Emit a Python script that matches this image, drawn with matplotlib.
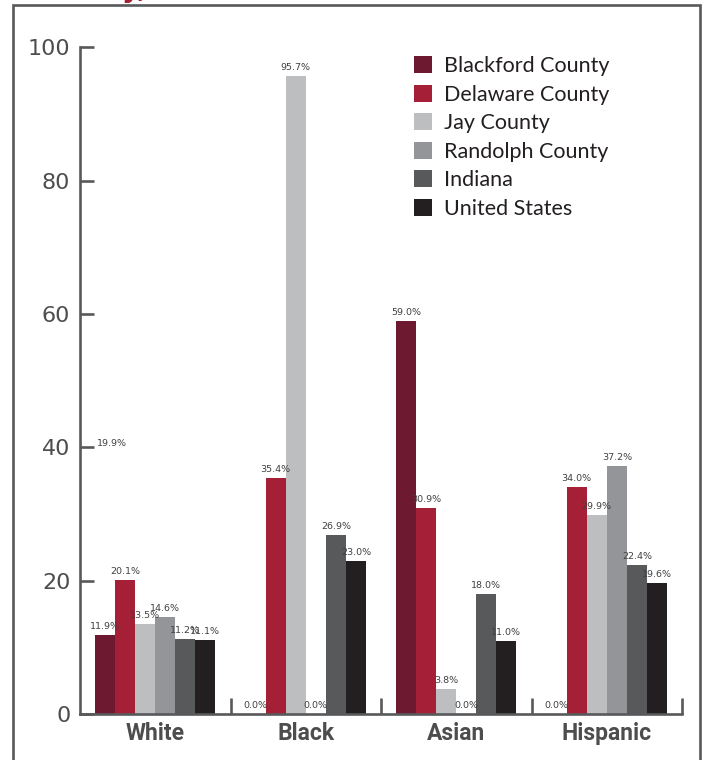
import numpy as np
import matplotlib.pyplot as plt
import matplotlib.patches as patches

# Values by group and area (percent)
groups = ['White', 'Black', 'Asian', 'Hispanic']
areas = ['Blackford County', 'Delaware County', 'Jay County',
         'Randolph County', 'Indiana', 'United States']
blackford = [11.9, 0.0, 59.0, 0.0]
delaware = [20.1, 35.4, 30.9, 34.0]
jay = [13.5, 95.7, 3.8, 29.9]
randolph = [14.6, 0.0, 0.0, 37.2]
indiana = [11.2, 26.9, 18.0, 22.4]
united_states = [11.1, 23.0, 11.0, 19.6]
series = [blackford, delaware, jay, randolph, indiana, united_states]
colors = ['#6d1a30', '#a51f36', '#bcbec0', '#939598', '#58595b', '#231f20']

axis_gray = '#58595b'
text_gray = '#4d4d4d'
plt.rcParams['font.family'] = 'DejaVu Sans'

fig = plt.figure(figsize=(7.05, 7.6), dpi=100)
ax = fig.add_axes([80 / 705, 1 - 714 / 760, 602 / 705, 666.7 / 760])

# Grouped bars
width = 0.8 / len(series)
centers = np.arange(len(groups)) + 0.5
for i, (vals, col, name) in enumerate(zip(series, colors, areas)):
    xs = centers + (i - 2.5) * width
    ax.bar(xs, vals, width=width, color=col, label=name, linewidth=0)
    for x, v in zip(xs, vals):
        ax.text(x, v + 0.6, f'{v:.1f}%', ha='center', va='bottom',
                fontsize=6.8, color='#404040')

# Stray value label sitting beside the 40 tick
ax.text(0.11, 40.6, '19.9%', ha='left', va='center', fontsize=6.8, color='#404040')

ax.set_xlim(0, 4)
ax.set_ylim(0, 100)
for side in ['top', 'right']:
    ax.spines[side].set_visible(False)
for side in ['left', 'bottom']:
    ax.spines[side].set_color(axis_gray)
    ax.spines[side].set_linewidth(1.9)

ax.set_yticks([0, 20, 40, 60, 80, 100])
ax.tick_params(axis='y', direction='in', length=10, width=1.9, color=axis_gray,
               pad=7, labelsize=16, labelcolor=text_gray)

# group separators on the x axis, names in between
ax.set_xticks([1, 2, 3, 4])
ax.set_xticklabels([])
ax.tick_params(axis='x', which='major', direction='in', length=11.5, width=1.9,
               color=axis_gray)
ax.set_xticks(centers, minor=True)
ax.set_xticklabels(groups, minor=True, fontsize=16.5, fontweight='bold',
                   family='Roboto', color=text_gray)
ax.tick_params(axis='x', which='minor', length=0, pad=6)

leg = ax.legend(loc='upper left', bbox_to_anchor=(414 / 705, 1 - 56 / 760),
                bbox_transform=fig.transFigure, frameon=False,
                prop={'family': 'Lato', 'size': 15.5}, handlelength=0.84,
                handleheight=0.84, handletextpad=0.56, labelspacing=0.4,
                borderpad=0, borderaxespad=0)
for t in leg.get_texts():
    t.set_color('#231f20')

# outer frame and the clipped heading above it
frame = patches.Rectangle((13 / 705, -0.05), 687 / 705, 1.05 - 5 / 760,
                          transform=fig.transFigure, fill=False,
                          edgecolor=axis_gray, linewidth=1.9, clip_on=False)
fig.patches.append(frame)
fig.text(122 / 705, 1 + 3 / 760, 'y,', fontsize=20, fontweight='bold',
         color='#a51f36', ha='left', va='baseline')

fig.savefig('out.png', dpi=100)
